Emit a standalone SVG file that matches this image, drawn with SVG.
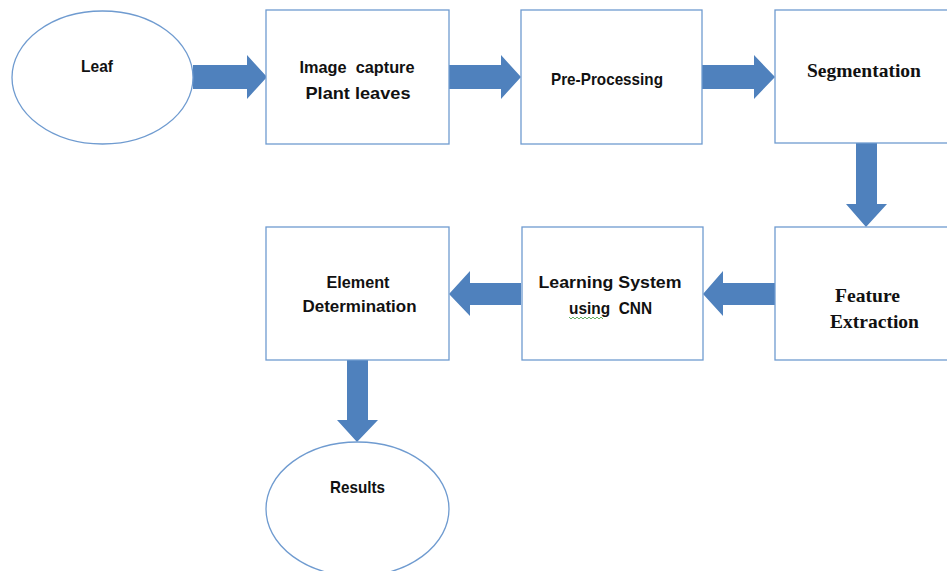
<svg xmlns="http://www.w3.org/2000/svg" width="947" height="571" viewBox="0 0 947 571">
<style>
.box{fill:#fff;stroke:#6f9bd0;stroke-width:1.3}
.oval{fill:#fff;stroke:#6f9bd0;stroke-width:1.3}
.arr{fill:#4f81bd}
.t{font-family:"Liberation Sans",Arial,sans-serif;font-weight:bold;font-size:17px;fill:#111;text-anchor:middle;white-space:pre}
.s{font-family:"Liberation Serif","Times New Roman",serif;font-weight:bold;font-size:19.5px;fill:#111;text-anchor:middle}
</style>
<rect width="947" height="571" fill="#fff"/>
<g id="connectors">
<polygon class="arr" points="193,65 247,65 247,55 267,77 247,99 247,89 193,89"/>
<polygon class="arr" points="449,65 501,65 501,55 521,77 501,99 501,89 449,89"/>
<polygon class="arr" points="702,65 754,65 754,55 775,77 754,99 754,89 702,89"/>
<polygon class="arr" points="856,143 877,143 877,204 887,204 866,227 846,204 856,204"/>
<polygon class="arr" points="775,283 723,283 723,271 703,294 723,316 723,305 775,305"/>
<polygon class="arr" points="521,283 470,283 470,271 449,294 470,316 470,305 521,305"/>
<polygon class="arr" points="347,360 368,360 368,420 378,420 357,442 337,420 347,420"/>
</g>
<g id="leaf">
<ellipse class="oval" cx="102.5" cy="77.5" rx="90.5" ry="66.5"/>
<text class="t" x="97" y="72" textLength="32" lengthAdjust="spacingAndGlyphs">Leaf</text>
</g>
<g id="image-capture">
<rect class="box" x="266" y="10" width="183" height="134"/>
<text class="t" x="357" y="73" textLength="115" lengthAdjust="spacingAndGlyphs">Image  capture</text>
<text class="t" x="358" y="99" textLength="105" lengthAdjust="spacingAndGlyphs">Plant leaves</text>
</g>
<g id="pre-processing">
<rect class="box" x="521" y="10" width="181" height="134"/>
<text class="t" x="607" y="85" textLength="112" lengthAdjust="spacingAndGlyphs">Pre-Processing</text>
</g>
<g id="segmentation">
<rect class="box" x="775" y="10" width="185" height="133"/>
<text class="s" x="864" y="77" textLength="114" lengthAdjust="spacingAndGlyphs">Segmentation</text>
</g>
<g id="feature-extraction">
<rect class="box" x="775" y="227" width="185" height="133"/>
<text class="s" x="867.5" y="302" textLength="65" lengthAdjust="spacingAndGlyphs">Feature</text>
<text class="s" x="874.5" y="328" textLength="89" lengthAdjust="spacingAndGlyphs">Extraction</text>
</g>
<g id="learning-system">
<rect class="box" x="522" y="227" width="181" height="133"/>
<text class="t" x="610" y="288" textLength="143" lengthAdjust="spacingAndGlyphs">Learning System</text>
<text class="t" x="610.5" y="314" textLength="83" lengthAdjust="spacingAndGlyphs">using  CNN</text>
<polyline points="569,317 571,319 573,317 575,319 577,317 579,319 581,317 583,319 585,317 587,319 589,317 591,319 593,317 595,319 597,317 599,319 601,317 603,319" fill="none" stroke="#3c9a3c" stroke-width="0.8"/>
</g>
<g id="element-determination">
<rect class="box" x="266" y="227" width="183" height="133"/>
<text class="t" x="358" y="288" textLength="63" lengthAdjust="spacingAndGlyphs">Element</text>
<text class="t" x="359.5" y="312" textLength="114" lengthAdjust="spacingAndGlyphs">Determination</text>
</g>
<g id="results">
<ellipse class="oval" cx="357.5" cy="509" rx="91.5" ry="67"/>
<text class="t" x="357.5" y="493" textLength="55" lengthAdjust="spacingAndGlyphs">Results</text>
</g>
</svg>
